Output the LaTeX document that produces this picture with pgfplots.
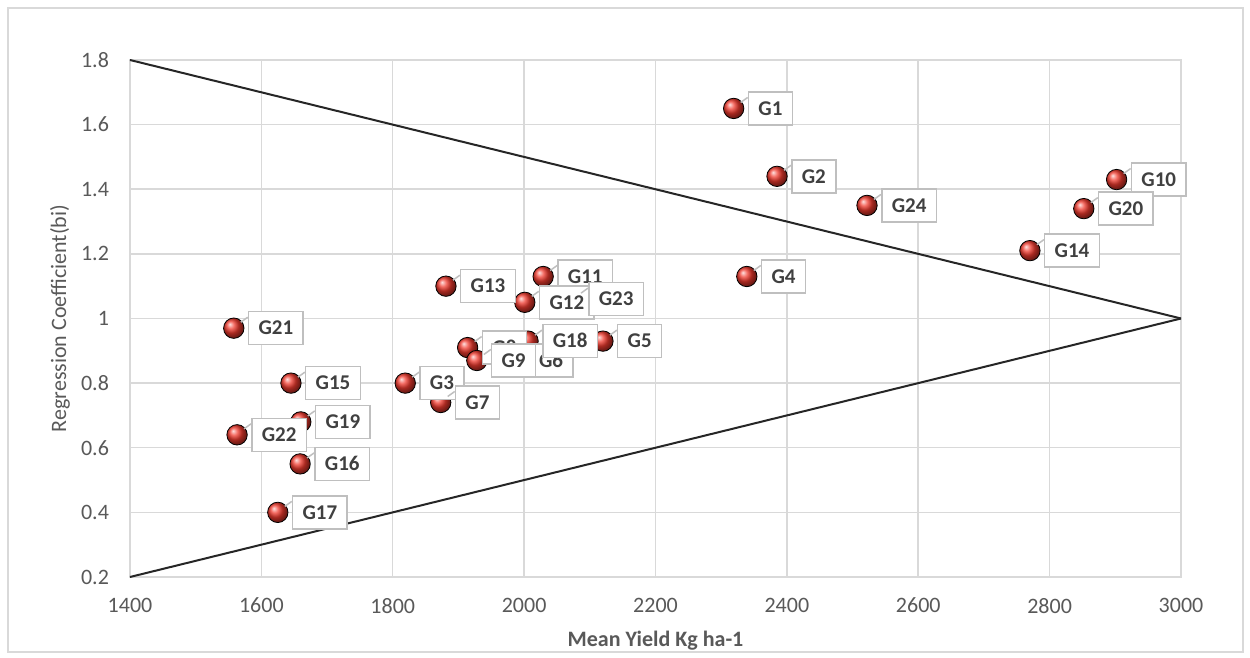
\documentclass[border=0pt]{standalone}
\usepackage{fontspec}
\setmainfont{Carlito}
\usepackage{pgfplots}
\pgfplotsset{compat=1.18}
\usepackage{pgfplotstable}

\definecolor{txtgray}{HTML}{595959}
\definecolor{gridgray}{HTML}{D9D9D9}
\definecolor{lblgray}{HTML}{404040}
\definecolor{boxgray}{HTML}{BFBFBF}
\definecolor{ballred}{HTML}{F03A2E}

% Genotype stability: mean yield vs regression coefficient
\pgfplotstableread{
x    y    label
2319 1.65 G1
2385 1.44 G2
1819 0.80 G3
2339 1.13 G4
2120 0.93 G5
1985 0.87 G6
1873 0.74 G7
1914 0.91 G8
1928 0.87 G9
2902 1.43 G10
2029 1.13 G11
2001 1.05 G12
1881 1.10 G13
2770 1.21 G14
1645 0.80 G15
1659 0.55 G16
1625 0.40 G17
2006 0.93 G18
1660 0.68 G19
2852 1.34 G20
1558 0.97 G21
1563 0.64 G22
2076 1.06 G23
2522 1.35 G24
}\stability

\begin{document}
\begin{tikzpicture}
\fill[white] (0,0) rectangle (625pt,329pt);
\draw[gridgray, line width=0.75pt] (4pt,3pt) rectangle (621.5pt,325pt);
\begin{axis}[
  at={(65pt,40.5pt)}, anchor=south west,
  scale only axis, width=525.5pt, height=258.5pt,
  xmin=1400, xmax=3000, ymin=0.2, ymax=1.8,
  xtick={1400,1600,1800,2000,2200,2400,2600,2800,3000},
  xticklabels={1400,1600,1800,2000,2200,2400,2600,2800,3000},
  ytick={0.2,0.4,0.6,0.8,1,1.2,1.4,1.6,1.8},
  yticklabels={0.2,0.4,0.6,0.8,1,1.2,1.4,1.6,1.8},
  grid=major,
  major grid style={gridgray, line width=0.75pt},
  axis line style={gridgray, line width=0.75pt},
  major tick length=0pt,
  tick label style={font=\fontsize{11}{13}\selectfont, text=txtgray},
  yticklabel style={xshift=-7pt},
  xticklabel style={yshift=-7pt},
  xlabel={Mean Yield Kg ha-1},
  ylabel={Regression Coefficient(bi)},
  xlabel style={at={(axis description cs:0.5,-0.1238)}, anchor=center,
    font=\fontsize{11}{13}\selectfont\bfseries, text=txtgray},
  ylabel style={at={(axis description cs:-0.0666,0.5)}, anchor=center,
    font=\fontsize{11}{13}\selectfont, text=txtgray},
  clip=false,
]
% genotype markers
\addplot[
  only marks, mark=ball, mark size=5.1pt,
  mark options={ball color=ballred},
] table[x=x, y=y] {\stability};

% callout labels, drawn above every marker
\addplot[
  draw=none, mark=none,
  point meta=explicit symbolic,
  nodes near coords,
  every node near coord/.append style={
    anchor=west, xshift=7pt,
    fill=white, draw=boxgray, line width=0.75pt,
    font=\fontsize{10.5}{12}\selectfont\bfseries, text=lblgray,
    inner xsep=5pt, inner ysep=4.9pt,
    text height=6.7pt, text depth=0pt,
    append after command={
      ([yshift=5.5pt]\tikzlastnode.west) edge[draw=boxgray, line width=0.75pt]
      ([xshift=-3.5pt,yshift=3pt]\tikzlastnode.west)
    },
  },
] table[x=x, y=y, meta=label] {\stability};

% limits of the stability region
\addplot[black!85, line width=1pt] coordinates {(1400,1.8) (3000,1.0)};
\addplot[black!85, line width=1pt] coordinates {(1400,0.2) (3000,1.0)};
\end{axis}
\end{tikzpicture}
\end{document}
